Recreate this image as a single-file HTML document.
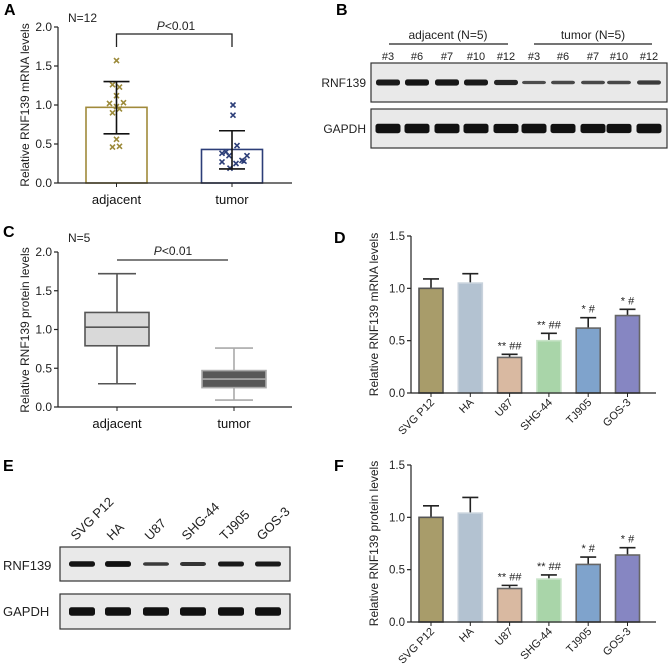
<!DOCTYPE html>
<html><head><meta charset="utf-8"><style>
html,body{margin:0;padding:0;background:#fff;}
svg{display:block;font-family:"Liberation Sans",sans-serif;}
</style></head><body>
<svg id="fig" width="669" height="664" viewBox="0 0 669 664" xmlns="http://www.w3.org/2000/svg">
<g id="root"></g>
</svg>
<script>
// Panel A data
const aCats = ["adjacent","tumor"];
const aMeans = [0.97, 0.43];
const aErrLo = [0.63, 0.18];
const aErrHi = [1.30, 0.67];
const aPtsAdj = [1.57,1.26,1.23,1.12,1.02,1.03,0.98,0.95,0.90,0.56,0.47,0.46];
const aPtsTum = [1.00,0.87,0.48,0.40,0.38,0.35,0.35,0.29,0.27,0.28,0.25,0.19];
const aTicks = ["0.0","0.5","1.0","1.5","2.0"];
// Panel C data
const cMin = [0.30, 0.09];
const cQ1 = [0.79, 0.25];
const cMed = [1.03, 0.36];
const cQ3 = [1.22, 0.47];
const cMax = [1.72, 0.76];
// Panels D/F
const cellLines = ["SVG P12","HA","U87","SHG-44","TJ905","GOS-3"];
const dVals = [1.00,1.05,0.34,0.50,0.62,0.74];
const dErr = [0.09,0.09,0.03,0.07,0.10,0.06];
const fVals = [1.00,1.04,0.32,0.41,0.55,0.64];
const fErr = [0.11,0.15,0.03,0.04,0.07,0.07];
const sigLabels = ["","","** ##","** ##","* #","* #"];
const barTicks = ["0.0","0.5","1.0","1.5"];
// Blots
const bLanes = ["#3","#6","#7","#10","#12","#3","#6","#7","#10","#12"];
const bRnf = [0.85,0.9,0.88,0.85,0.75,0.45,0.5,0.5,0.5,0.6];
const bGapdh = [0.95,0.95,0.95,0.95,0.92,0.95,0.92,0.92,0.92,0.95];
const eRnf = [0.9,0.95,0.6,0.65,0.85,0.85];
const eGapdh = [0.95,0.95,0.95,0.95,0.95,0.95];

const NS="http://www.w3.org/2000/svg";
const root=document.getElementById('root');
function mk(tag,attrs,parent,text){const e=document.createElementNS(NS,tag);for(const k in attrs)e.setAttribute(k,attrs[k]);if(text!==undefined)e.textContent=text;(parent||root).appendChild(e);return e;}

function panelLabel(t,x,y){const e=mk('text',{x:x,y:y,'font-size':16,'font-weight':'bold',fill:'#000'},root,t);

}
panelLabel('A',4,15);panelLabel('B',336,15);panelLabel('C',3,237);panelLabel('D',334,243);panelLabel('E',3,471);panelLabel('F',334,471);

function yAxis(g,x0,yScale,ticks,vals,xEnd,y0,fs){
  mk('line',{x1:x0,y1:yScale(vals[vals.length-1]),x2:x0,y2:y0,stroke:'#222','stroke-width':1.2},g);
  mk('line',{x1:x0,y1:y0,x2:xEnd,y2:y0,stroke:'#222','stroke-width':1.2},g);
  ticks.forEach((t,i)=>{const y=yScale(vals[i]);
    mk('line',{x1:x0-4,y1:y,x2:x0,y2:y,stroke:'#222','stroke-width':1.2},g);
    const tx=mk('text',{x:x0-6,y:y+4,'font-size':fs||12,'text-anchor':'end',fill:'#222'},g,t);
    
    
  });
}
function cross(g,x,y,c){mk('path',{d:`M${x-2.5} ${y-2.5}L${x+2.5} ${y+2.5}M${x-2.5} ${y+2.5}L${x+2.5} ${y-2.5}`,stroke:c,'stroke-width':1.6},g);}

// Panel A
(function(){
  const g=mk('g',{});
  const y=v=>183-v*78; const x0=58, xs=[116.5,232], bw=61;
  const colors=['#a08a3a','#2c3e78'];
  aMeans.forEach((m,i)=>{
    const r=mk('rect',{x:xs[i]-bw/2,y:y(m),width:bw,height:183-y(m),fill:'#fff',stroke:colors[i],'stroke-width':1.6},g);
    
  });
  const offs=[0,-4,3,0,-7,7,0,3,-4,0,3,-4];
  const offsT=[1,1,5,-6,-10,-3,15,10,-10,12,4,-2];
  aPtsAdj.forEach((v,i)=>cross(g,xs[0]+offs[i],y(v),'#9c8a3a'));
  aPtsTum.forEach((v,i)=>cross(g,xs[1]+offsT[i],y(v),'#2c3e78'));
  aMeans.forEach((m,i)=>{
    const e=mk('path',{d:`M${xs[i]} ${y(aErrLo[i])}V${y(aErrHi[i])}M${xs[i]-13} ${y(aErrHi[i])}H${xs[i]+13}M${xs[i]-13} ${y(aErrLo[i])}H${xs[i]+13}`,stroke:'#111','stroke-width':1.6,fill:'none'},g);
    
  });
  yAxis(g,x0,y,aTicks,[0,0.5,1,1.5,2],292,183);
  aCats.forEach((c,i)=>{mk('line',{x1:xs[i],y1:183,x2:xs[i],y2:187,stroke:'#222'},g);
    const t=mk('text',{x:xs[i],y:204,'font-size':13,'text-anchor':'middle',fill:'#111'},g,c);
    });
  mk('path',{d:`M${xs[0]} 47V34H${xs[1]}V47`,stroke:'#222','stroke-width':1.3,fill:'none'},g);
  const p=mk('text',{x:176,y:30,'font-size':12,'text-anchor':'middle',fill:'#222'},g);
  
  mk('tspan',{'font-style':'italic'},p,'P');mk('tspan',{},p,'<0.01');
  const n=mk('text',{x:68,y:22,'font-size':12,fill:'#222'},g,'N=12');
  const yt=mk('text',{transform:'translate(29,105) rotate(-90)','font-size':12,'text-anchor':'middle',fill:'#222'},g,'Relative RNF139 mRNA levels');
  
})();

// Panel C
(function(){
  const g=mk('g',{});
  const y0=407,y=v=>y0-v*77.5,xs=[117,234],bw=64;
  const fills=['#d9d9d9','#585858'],strokes=['#555','#aaa'];
  cMed.forEach((m,i)=>{
    const x=xs[i];
    mk('path',{d:`M${x} ${y(cMax[i])}V${y(cMin[i])}M${x-19} ${y(cMax[i])}H${x+19}M${x-19} ${y(cMin[i])}H${x+19}`,stroke:strokes[i],'stroke-width':1.6,fill:'none'},g);
    const b=mk('rect',{x:x-bw/2,y:y(cQ3[i]),width:bw,height:y(cQ1[i])-y(cQ3[i]),fill:fills[i],stroke:strokes[i],'stroke-width':1.6},g);
    
    mk('line',{x1:x-bw/2,x2:x+bw/2,y1:y(m),y2:y(m),stroke:strokes[i],'stroke-width':1.6},g);
  });
  yAxis(g,58,y,aTicks,[0,0.5,1,1.5,2],292,y0);
  aCats.forEach((c,i)=>{mk('line',{x1:xs[i],y1:y0,x2:xs[i],y2:y0+4,stroke:'#222'},g);
    const t=mk('text',{x:xs[i],y:428,'font-size':13,'text-anchor':'middle',fill:'#111'},g,c);
    });
  mk('line',{x1:117,x2:228,y1:260,y2:260,stroke:'#333','stroke-width':1.3},g);
  const p=mk('text',{x:173,y:255,'font-size':12,'text-anchor':'middle',fill:'#222'},g);
  
  mk('tspan',{'font-style':'italic'},p,'P');mk('tspan',{},p,'<0.01');
  const n=mk('text',{x:68,y:242,'font-size':12,fill:'#222'},g,'N=5');
  const yt=mk('text',{transform:'translate(29,330) rotate(-90)','font-size':12,'text-anchor':'middle',fill:'#222'},g,'Relative RNF139 protein levels');
  
})();

// Bar panels D, F
const barColors=['#a89c6a','#b3c2d1','#d9b9a1','#a9d5a9','#7fa3cc','#8686c2'];
const barStrokes=['#555','#c8d2dc','#666','#c9e4c9','#666','#666'];
function barPanel(name,vals,errs,y0,yTop,title){
  const g=mk('g',{});
  const k=(y0-yTop)/1.5,y=v=>y0-v*k,x0=411,bw=24;
  const xs=cellLines.map((c,i)=>431+i*39.3);
  vals.forEach((v,i)=>{
    const x=xs[i];
    mk('path',{d:`M${x} ${y(v)}V${y(v+errs[i])}M${x-8} ${y(v+errs[i])}H${x+8}`,stroke:'#222','stroke-width':1.6,fill:'none'},g);
    const r=mk('rect',{x:x-bw/2,y:y(v),width:bw,height:y0-y(v),fill:barColors[i],stroke:barStrokes[i],'stroke-width':1.6},g);
    
    if(sigLabels[i]){const s=mk('text',{x:x,y:y(v+errs[i])-5,'font-size':11,'text-anchor':'middle',fill:'#222'},g,sigLabels[i]);
      }
    mk('line',{x1:x,x2:x,y1:y0,y2:y0+4,stroke:'#222'},g);
    const t=mk('text',{transform:`translate(${x+4},${y0+10}) rotate(-45)`,'font-size':11,'text-anchor':'end',fill:'#222'},g,cellLines[i]);
    
  });
  yAxis(g,x0,y,barTicks,[0,0.5,1,1.5],656,y0,11.5);
  const yt=mk('text',{transform:`translate(378,${(y0+yTop)/2}) rotate(-90)`,'font-size':12,'text-anchor':'middle',fill:'#222'},g,title);
  
}
barPanel('panel-d-chart',dVals,dErr,393,236,'Relative RNF139 mRNA levels');
barPanel('panel-f-chart',fVals,fErr,622,465,'Relative RNF139 protein levels');

// Blots
function blot(name,x,y,w,h,xs,ints,bh,bw){
  const g=mk('g',{});
  mk('rect',{x:x,y:y,width:w,height:h,fill:'#e9e9e9',stroke:'#333','stroke-width':1.2},g);
  xs.forEach((cx,i)=>{const a=ints[i];
    const b=mk('rect',{x:cx-bw/2,y:y+h/2-bh*a/2,width:bw,height:bh*a,rx:2.5,fill:'#111','fill-opacity':Math.min(1,0.45+a*0.6)},g);
    });
}
const bXs=[388,417,447,476,506,534,563,593,619,649];
blot('blot-b-rnf139',371,63,296,39,bXs,bRnf,7,24);
blot('blot-b-gapdh',371,109,296,39,bXs,bGapdh,10,25);
bLanes.forEach((l,i)=>{const t=mk('text',{x:bXs[i],y:60,'font-size':11,'text-anchor':'middle',fill:'#222'},root,l);
  });
mk('line',{x1:389,x2:508,y1:44,y2:44,stroke:'#222','stroke-width':1.2});
mk('line',{x1:534,x2:652,y1:44,y2:44,stroke:'#222','stroke-width':1.2});
[['adjacent (N=5)',448],['tumor (N=5)',593]].forEach(a=>{const t=mk('text',{x:a[1],y:39,'font-size':12,'text-anchor':'middle',fill:'#222'},root,a[0]);
  });
[['RNF139',87],['GAPDH',133]].forEach(a=>{const t=mk('text',{x:366,y:a[1],'font-size':12,'text-anchor':'end',fill:'#222'},root,a[0]);
  });

const eXs=[82,118,156,193,231,268];
blot('blot-e-rnf139',60,547,230,34,eXs,eRnf,6,26);
blot('blot-e-gapdh',60,594,230,35,eXs,eGapdh,9,26);
cellLines.forEach((c,i)=>{const t=mk('text',{transform:`translate(${eXs[i]-6},${541}) rotate(-45)`,'font-size':13,fill:'#222'},root,c);
  });
[['RNF139',570],['GAPDH',616]].forEach(a=>{const t=mk('text',{x:3,y:a[1],'font-size':13,fill:'#222'},root,a[0]);
  });
</script>
</body></html>
